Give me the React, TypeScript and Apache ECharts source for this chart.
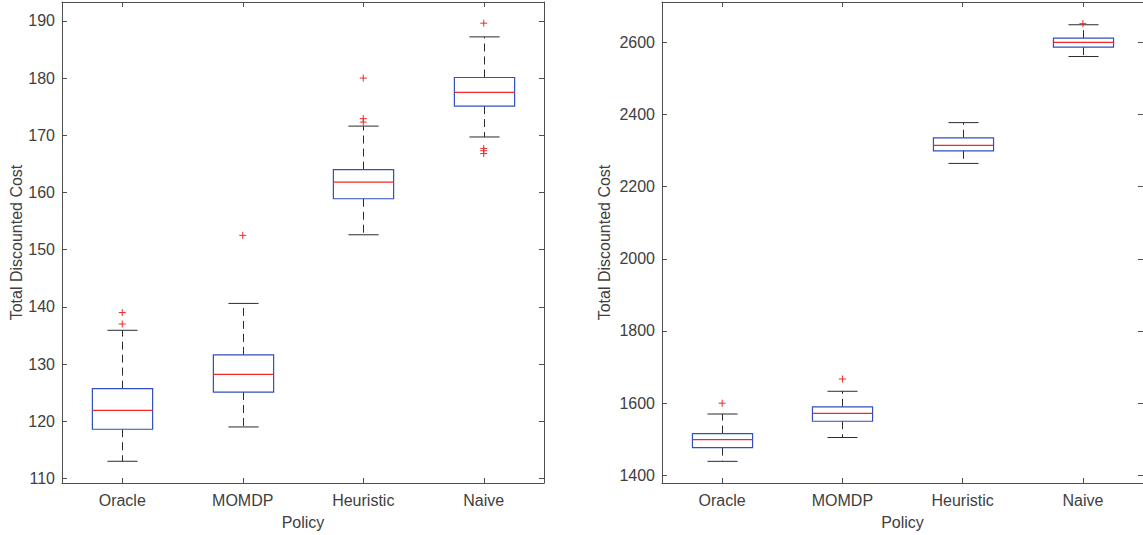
import React, { useEffect, useRef } from "react";
import * as echarts from "echarts";

const categories = ["Oracle", "MOMDP", "Heuristic", "Naive"];

// [lower whisker, Q1, median, Q3, upper whisker]
const leftBoxes = [
  [113.0, 118.6, 121.9, 125.7, 135.9],
  [119.0, 125.1, 128.2, 131.6, 140.6],
  [152.6, 158.9, 161.8, 164.0, 171.6],
  [169.7, 175.1, 177.5, 180.1, 187.2],
];
const leftOutliers = [
  [0, 139.0], [0, 137.0],
  [1, 152.5],
  [2, 180.0], [2, 172.9], [2, 172.3],
  [3, 189.6], [3, 167.7], [3, 167.3], [3, 166.8],
];

const rightBoxes = [
  [1439, 1477, 1499, 1516, 1570],
  [1505, 1550, 1572, 1590, 1633],
  [2264, 2299, 2314, 2335, 2377],
  [2560, 2586, 2599, 2611, 2648],
];
const rightOutliers = [
  [0, 1600],
  [1, 1667],
  [3, 2651],
];

const leftYTicks = [110, 120, 130, 140, 150, 160, 170, 180, 190];
const rightYTicks = [1400, 1600, 1800, 2000, 2200, 2400, 2600];

const BLUE = "#2f50bd";
const RED = "#f02828";
const BLACK = "#2b2b2b";
const AXIS = "#4f4f4f";
const TEXT = "#404040";
const FONT = "'Liberation Sans', Arial, Helvetica, sans-serif";
const FS = 16;

function renderBox(params: any, api: any) {
  const cat = api.value(0);
  const lo = api.coord([cat, api.value(1)]);
  const q1 = api.coord([cat, api.value(2)]);
  const md = api.coord([cat, api.value(3)]);
  const q3 = api.coord([cat, api.value(4)]);
  const hi = api.coord([cat, api.value(5)]);
  const band = api.size([1, 0])[0];
  const bw = band * 0.5;
  const cw = band * 0.25;
  const x = Math.round(lo[0]) + 0.5;
  const dash = { stroke: BLACK, lineWidth: 1, lineDash: [8, 5], fill: null };
  const solid = { stroke: BLACK, lineWidth: 1, fill: null };
  return {
    type: "group",
    children: [
      { type: "line", shape: { x1: x, y1: q3[1], x2: x, y2: hi[1] }, style: dash },
      { type: "line", shape: { x1: x, y1: q1[1], x2: x, y2: lo[1] }, style: dash },
      { type: "line", shape: { x1: x - cw / 2, y1: hi[1], x2: x + cw / 2, y2: hi[1] }, style: solid },
      { type: "line", shape: { x1: x - cw / 2, y1: lo[1], x2: x + cw / 2, y2: lo[1] }, style: solid },
      {
        type: "rect",
        shape: { x: x - bw / 2, y: q3[1], width: bw, height: q1[1] - q3[1] },
        style: { fill: "none", stroke: BLUE, lineWidth: 1.2 },
      },
      {
        type: "line",
        shape: { x1: x - bw / 2, y1: md[1], x2: x + bw / 2, y2: md[1] },
        style: { stroke: RED, lineWidth: 1.2, fill: null },
      },
    ],
  };
}

function renderPlus(params: any, api: any) {
  const p = api.coord([api.value(0), api.value(1)]);
  const s = 3.5;
  const st = { stroke: RED, lineWidth: 1, fill: null };
  return {
    type: "group",
    children: [
      { type: "line", shape: { x1: p[0] - s, y1: p[1], x2: p[0] + s, y2: p[1] }, style: st },
      { type: "line", shape: { x1: p[0], y1: p[1] - s, x2: p[0], y2: p[1] + s }, style: st },
    ],
  };
}

function xAxisDef(gridIndex: number, top: boolean) {
  return {
    type: "category",
    gridIndex,
    position: top ? "top" : "bottom",
    data: categories,
    boundaryGap: true,
    name: top ? "" : "Policy",
    nameLocation: "middle",
    nameGap: 31,
    nameTextStyle: { color: TEXT, fontSize: FS, fontFamily: FONT },
    axisLine: { show: true, lineStyle: { color: AXIS, width: 1 } },
    axisTick: { show: true, inside: true, length: 5, alignWithLabel: true, lineStyle: { color: AXIS } },
    axisLabel: top
      ? { show: false }
      : { show: true, color: TEXT, fontSize: FS, fontFamily: FONT, margin: 9 },
    splitLine: { show: false },
  };
}

function yAxisDef(gridIndex: number, right: boolean, min: number, max: number, ticks: number[], gap: number) {
  return {
    type: "value",
    gridIndex,
    position: right ? "right" : "left",
    min,
    max,
    name: right ? "" : "Total Discounted Cost",
    nameLocation: "middle",
    nameRotate: 90,
    nameGap: gap,
    nameTextStyle: { color: TEXT, fontSize: FS, fontFamily: FONT },
    axisLine: { show: true, lineStyle: { color: AXIS, width: 1 } },
    axisTick: { show: true, inside: true, length: 5, customValues: ticks, lineStyle: { color: AXIS } },
    axisLabel: right
      ? { show: false }
      : {
          show: true,
          color: TEXT,
          fontSize: FS,
          fontFamily: FONT,
          margin: 7,
          customValues: ticks,
          formatter: (v: number) => String(v),
        },
    splitLine: { show: false },
  };
}

export default function App() {
  const ref = useRef<HTMLDivElement>(null);
  useEffect(() => {
    if (!ref.current) return;
    const chart = echarts.init(ref.current, undefined, { renderer: "svg" });
    const toRows = (boxes: number[][]) => boxes.map((b, i) => [i, ...b]);
    chart.setOption({
      animation: false,
      backgroundColor: "#ffffff",
      grid: [
        { left: 62, top: 2, width: 482, height: 481 },
        { left: 662, top: 2, width: 483, height: 482 },
      ],
      xAxis: [xAxisDef(0, false), xAxisDef(0, true), xAxisDef(1, false), xAxisDef(1, true)],
      yAxis: [
        yAxisDef(0, false, 109.2, 193.3, leftYTicks, 38),
        yAxisDef(0, true, 109.2, 193.3, leftYTicks, 38),
        yAxisDef(1, false, 1379, 2711, rightYTicks, 50),
        yAxisDef(1, true, 1379, 2711, rightYTicks, 50),
      ],
      series: [
        {
          type: "custom",
          xAxisIndex: 0,
          yAxisIndex: 0,
          renderItem: renderBox,
          encode: { x: 0, y: [1, 2, 3, 4, 5] },
          data: toRows(leftBoxes),
          silent: true,
        },
        {
          type: "custom",
          xAxisIndex: 0,
          yAxisIndex: 0,
          renderItem: renderPlus,
          encode: { x: 0, y: 1 },
          data: leftOutliers,
          silent: true,
        },
        {
          type: "custom",
          xAxisIndex: 2,
          yAxisIndex: 2,
          renderItem: renderBox,
          encode: { x: 0, y: [1, 2, 3, 4, 5] },
          data: toRows(rightBoxes),
          silent: true,
        },
        {
          type: "custom",
          xAxisIndex: 2,
          yAxisIndex: 2,
          renderItem: renderPlus,
          encode: { x: 0, y: 1 },
          data: rightOutliers,
          silent: true,
        },
      ],
    });
    return () => chart.dispose();
  }, []);
  return (
    <div
      ref={ref}
      style={{ position: "fixed", left: 0, top: 0, width: 1143, height: 535, background: "#fff" }}
    />
  );
}
